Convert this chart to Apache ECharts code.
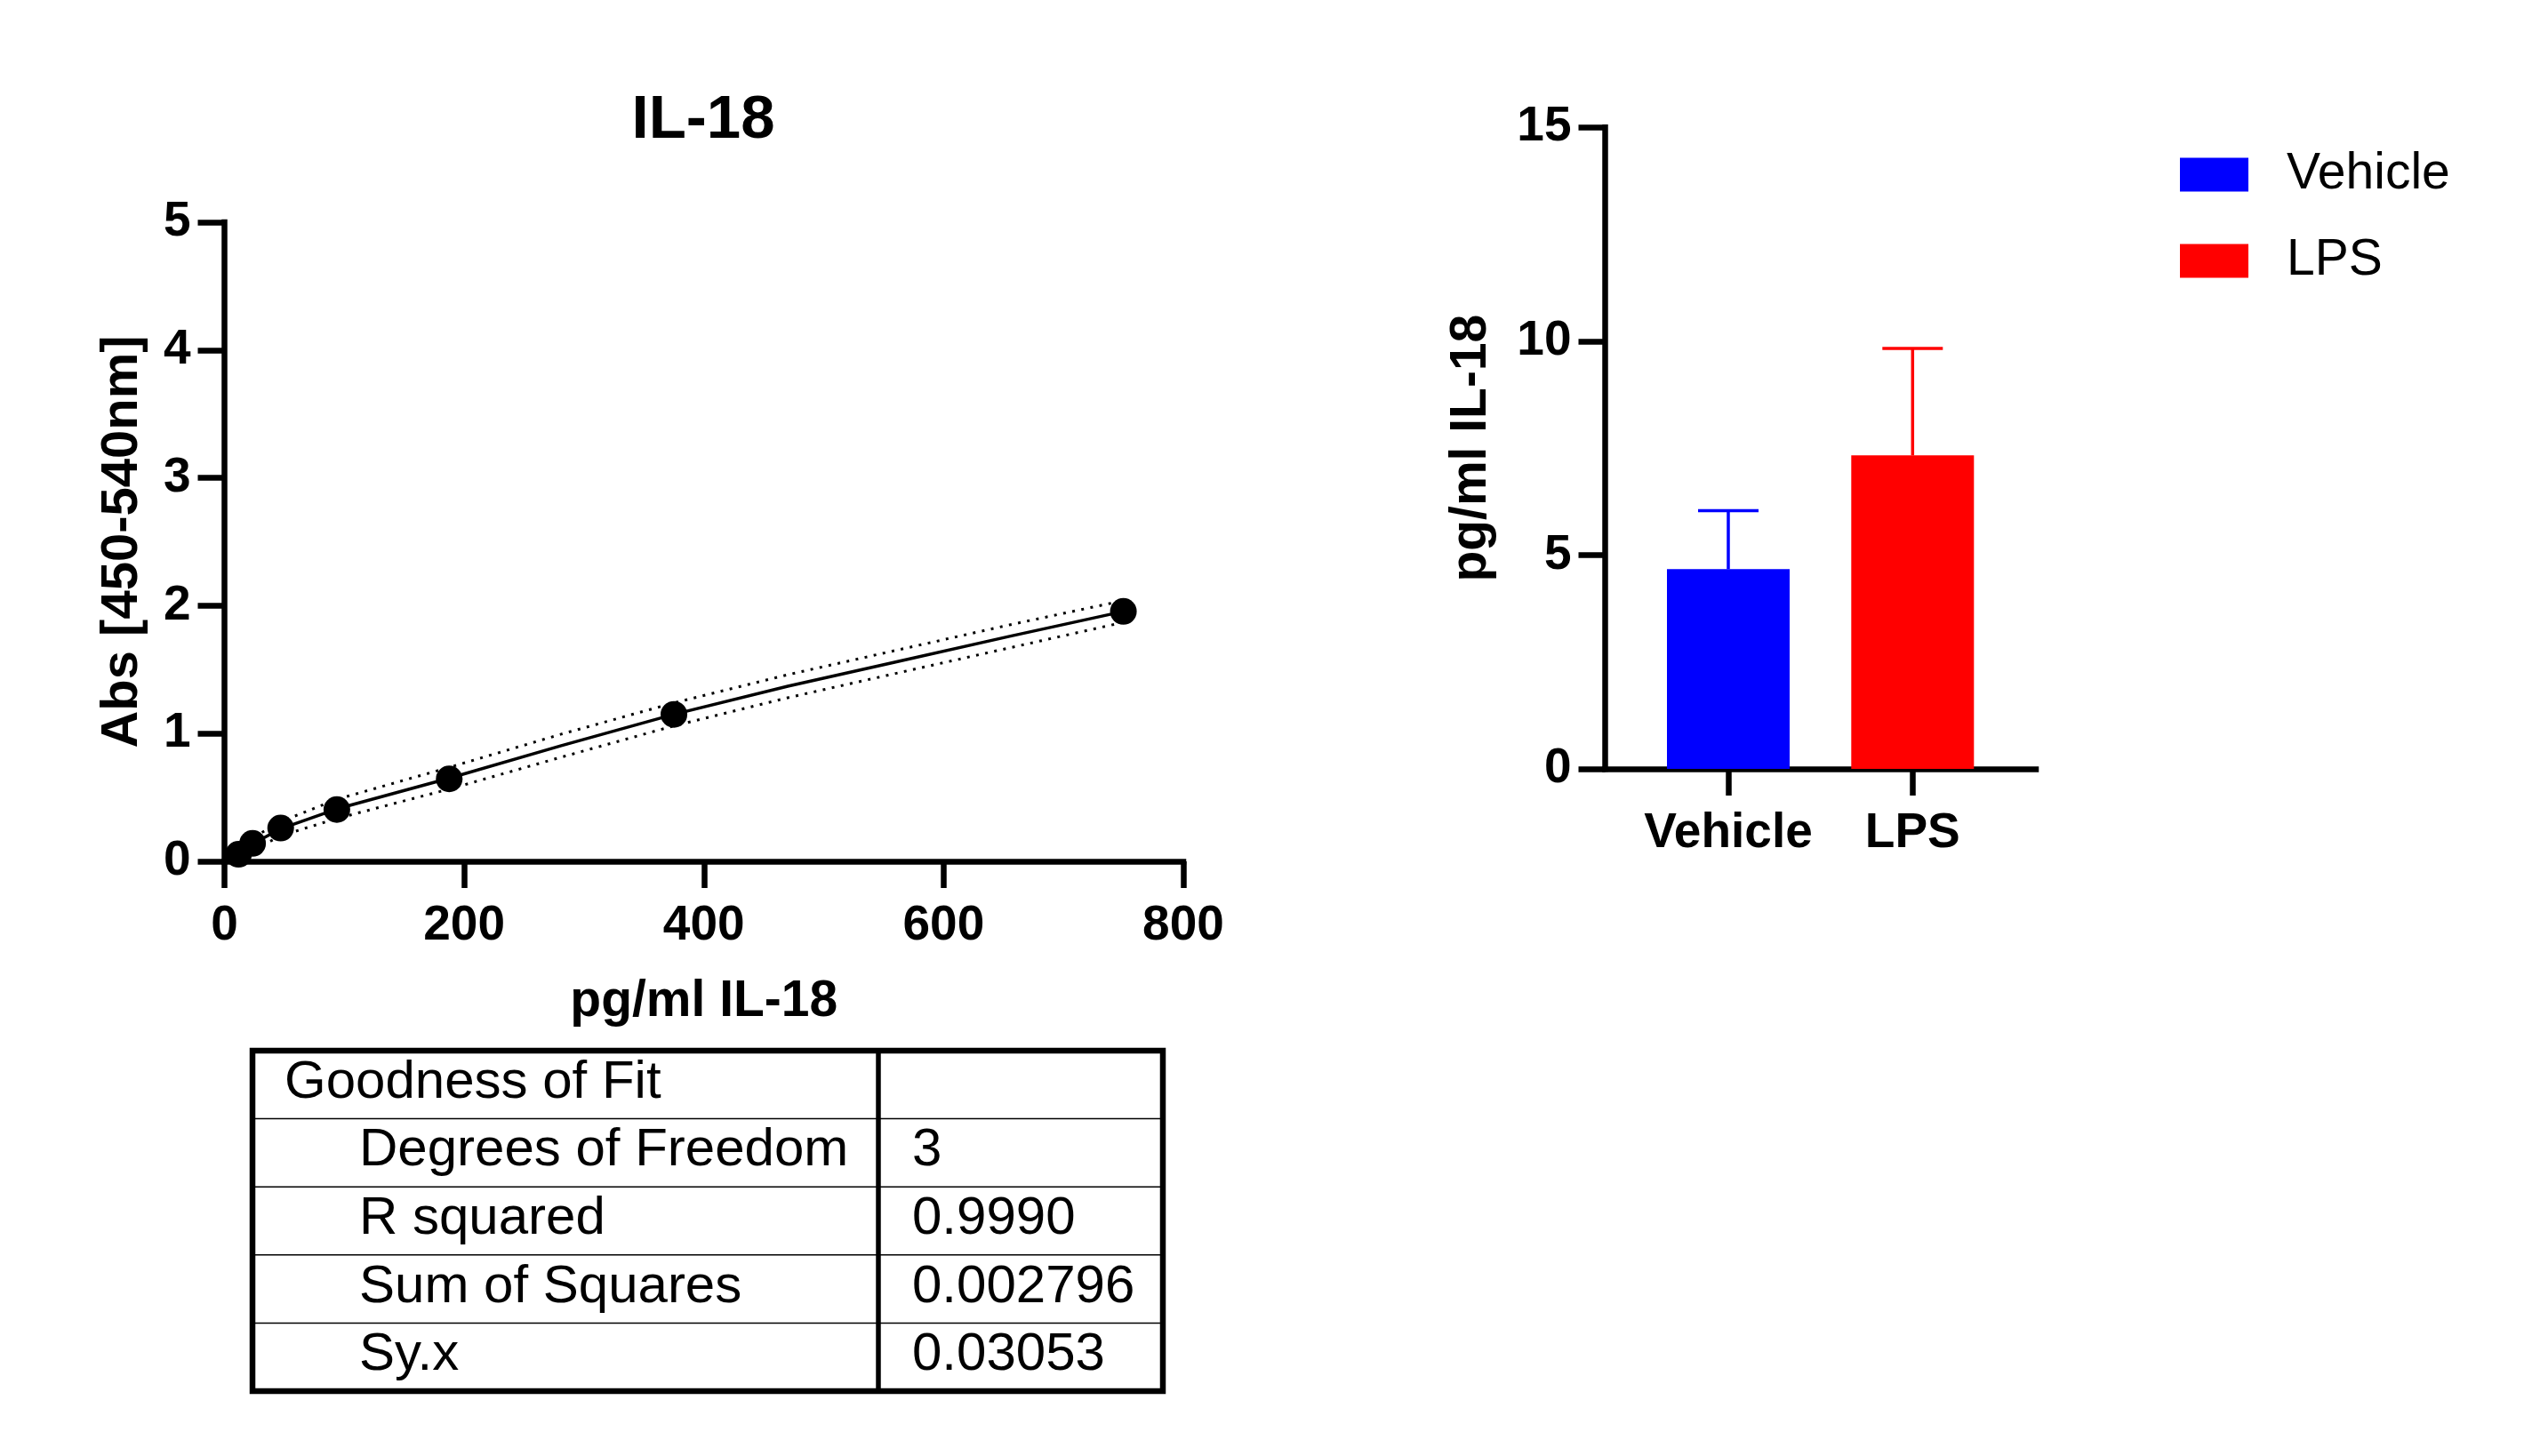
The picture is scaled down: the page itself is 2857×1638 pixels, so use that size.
<!DOCTYPE html>
<html>
<head>
<meta charset="utf-8">
<title>IL-18</title>
<script src="https://cdn.jsdelivr.net/npm/echarts@6/dist/echarts.min.js"></script>
<style>
  html, body { margin: 0; padding: 0; background: #fff; }
  #chart { width: 2857px; height: 1638px; }
</style>
</head>
<body>
<div id="chart"></div>
<script>
// standard curve: concentration (pg/ml) vs absorbance
const stdConc = [11.72, 23.44, 46.88, 93.75, 187.5, 375, 750];
const stdAbs = [0.055, 0.14, 0.26, 0.405, 0.645, 1.15, 1.955];

// fitted curve and its dotted bands
const fitX = [11.72, 23.44, 46.88, 93.75, 187.5, 281, 375, 470, 560, 655, 750];
const fitY = [0.06, 0.135, 0.255, 0.41, 0.65, 0.905, 1.15, 1.37, 1.56, 1.76, 1.955];
const upperY = [0.11, 0.185, 0.31, 0.485, 0.735, 0.995, 1.24, 1.46, 1.65, 1.85, 2.04];
const lowerY = [0.01, 0.085, 0.2, 0.335, 0.565, 0.815, 1.06, 1.28, 1.47, 1.67, 1.87];

// goodness of fit table
const fitTitle = "Goodness of Fit";
const fitLabels = ["Degrees of Freedom", "R squared", "Sum of Squares", "Sy.x"];
const fitValues = ["3", "0.9990", "0.002796", "0.03053"];

// bar chart
const groups = ["Vehicle", "LPS"];
const means = [4.67, 7.33];
const errs = [1.37, 2.5];
const barColors = ["#0000ff", "#ff0000"];

const FONT = "'Liberation Sans', Arial, Helvetica, sans-serif";
const AXIS_W = 6.5;

const pairs = (xs, ys) => xs.map((x, i) => [x, ys[i]]);

function axisStyle(extra) {
  return Object.assign({
    axisLine: { show: true, onZero: false, lineStyle: { color: "#000", width: AXIS_W, cap: "square" } },
    axisTick: { show: true, length: 30, lineStyle: { color: "#000", width: AXIS_W } },
    axisLabel: { show: true, color: "#000", fontFamily: FONT, fontWeight: "bold", fontSize: 55 },
    splitLine: { show: false },
    nameTextStyle: { color: "#000", fontFamily: FONT, fontWeight: "bold", fontSize: 57 }
  }, extra);
}

// table drawn as graphic elements under the left plot
const tbl = { left: 284, right: 1308, top: 1182, rowH: 76.6, split: 988 };
const tableGraphics = [];
const nRows = fitLabels.length + 1;
for (let r = 1; r < nRows; r++) {
  const y = tbl.top + r * tbl.rowH;
  tableGraphics.push({
    type: "line", shape: { x1: tbl.left, y1: y, x2: tbl.right, y2: y },
    style: { stroke: "#000", lineWidth: 1.5 }
  });
}
tableGraphics.push({
  type: "line", shape: { x1: tbl.split, y1: tbl.top, x2: tbl.split, y2: tbl.top + nRows * tbl.rowH },
  style: { stroke: "#000", lineWidth: 5.5 }
});
tableGraphics.push({
  type: "rect", shape: { x: tbl.left, y: tbl.top, width: tbl.right - tbl.left, height: nRows * tbl.rowH },
  style: { fill: "none", stroke: "#000", lineWidth: 6.5 }
});
const cellText = (text, x, row) => ({
  type: "text", x: x, y: tbl.top + (row + 0.5) * tbl.rowH - 2,
  style: { text: text, fill: "#000", font: "60px " + FONT, verticalAlign: "middle", align: "left" }
});
tableGraphics.push(cellText(fitTitle, 320, 0));
fitLabels.forEach((t, i) => tableGraphics.push(cellText(t, 404, i + 1)));
fitValues.forEach((t, i) => tableGraphics.push(cellText(t, 1026, i + 1)));

const chart = echarts.init(document.getElementById("chart"), null, { renderer: "canvas" });

const option = {
  animation: false,
  backgroundColor: "#fff",
  title: {
    text: "IL-18", left: 786, top: 96, textAlign: "center",
    textStyle: { color: "#000", fontFamily: FONT, fontWeight: "bold", fontSize: 69 }
  },
  legend: {
    orient: "vertical", left: 2447, top: 163, itemWidth: 77, itemHeight: 38, itemGap: 40,
    icon: "rect", data: groups,
    textStyle: { color: "#000", fontFamily: FONT, fontSize: 57, padding: [0, 0, 0, 38] }
  },
  grid: [
    { left: 252.5, top: 250, width: 1078.5, height: 719, outerBoundsMode: "none" },
    { left: 1805.5, top: 143.3, width: 484.5, height: 721.7, outerBoundsMode: "none" },
    { left: 1840.35, top: 143.3, width: 414.6, height: 721.7, outerBoundsMode: "none" }
  ],
  xAxis: [
    axisStyle({
      type: "value", gridIndex: 0, min: 0, max: 800, interval: 200,
      name: "pg/ml IL-18", nameLocation: "middle", nameGap: 130,
      axisLabel: { color: "#000", fontFamily: FONT, fontWeight: "bold", fontSize: 55, margin: 45 }
    }),
    axisStyle({
      type: "value", gridIndex: 1, min: 0, max: 1,
      axisTick: { show: false }, axisLabel: { show: false }
    }),
    axisStyle({
      type: "category", gridIndex: 2, data: groups,
      axisLine: { show: false },
      axisTick: { show: true, alignWithLabel: true, length: 30, lineStyle: { color: "#000", width: AXIS_W } },
      axisLabel: { color: "#000", fontFamily: FONT, fontWeight: "bold", fontSize: 55, margin: 45, interval: 0 }
    })
  ],
  yAxis: [
    axisStyle({
      type: "value", gridIndex: 0, min: 0, max: 5, interval: 1,
      name: "Abs [450-540nm]", nameLocation: "middle", nameGap: 86, nameRotate: 90,
      nameTextStyle: { color: "#000", fontFamily: FONT, fontWeight: "bold", fontSize: 58 },
      axisLabel: { color: "#000", fontFamily: FONT, fontWeight: "bold", fontSize: 55, margin: 38 }
    }),
    axisStyle({
      type: "value", gridIndex: 1, min: 0, max: 15, interval: 5,
      name: "pg/ml IL-18", nameLocation: "middle", nameGap: 122, nameRotate: 90,
      axisLabel: { color: "#000", fontFamily: FONT, fontWeight: "bold", fontSize: 55, margin: 38 }
    }),
    { type: "value", gridIndex: 2, min: 0, max: 15, show: false }
  ],
  series: [
    {
      type: "line", xAxisIndex: 0, yAxisIndex: 0, data: pairs(fitX, upperY),
      showSymbol: false, silent: true,
      lineStyle: { color: "#000", width: 3, type: [3, 7.4] }
    },
    {
      type: "line", xAxisIndex: 0, yAxisIndex: 0, data: pairs(fitX, lowerY),
      showSymbol: false, silent: true,
      lineStyle: { color: "#000", width: 3, type: [3, 7.4] }
    },
    {
      type: "line", xAxisIndex: 0, yAxisIndex: 0, data: pairs(fitX, fitY),
      showSymbol: false, silent: true,
      lineStyle: { color: "#000", width: 3.5 }
    },
    {
      type: "scatter", xAxisIndex: 0, yAxisIndex: 0, data: pairs(stdConc, stdAbs),
      symbol: "circle", symbolSize: 30, z: 5,
      itemStyle: { color: "#000", opacity: 1 }
    },
    {
      name: groups[0], type: "bar", xAxisIndex: 2, yAxisIndex: 2,
      data: [means[0], "-"], barWidth: 138, barGap: "-100%",
      itemStyle: { color: barColors[0] }
    },
    {
      name: groups[1], type: "bar", xAxisIndex: 2, yAxisIndex: 2,
      data: ["-", means[1]], barWidth: 138, barGap: "-100%",
      itemStyle: { color: barColors[1] }
    },
    {
      type: "custom", xAxisIndex: 2, yAxisIndex: 2, z: 3,
      data: means.map((m, i) => [i, m, errs[i]]),
      encode: { x: 0, y: 1 },
      renderItem: function (params, api) {
        const i = api.value(0);
        const base = api.coord([i, api.value(1)]);
        const top = api.coord([i, api.value(1) + api.value(2)]);
        const color = barColors[i];
        const st = { stroke: color, lineWidth: 3.5 };
        return {
          type: "group",
          children: [
            { type: "line", shape: { x1: base[0], y1: base[1], x2: top[0], y2: top[1] }, style: st },
            { type: "line", shape: { x1: top[0] - 34, y1: top[1], x2: top[0] + 34, y2: top[1] }, style: st }
          ]
        };
      }
    }
  ],
  graphic: tableGraphics
};

chart.setOption(option);
</script>
</body>
</html>
